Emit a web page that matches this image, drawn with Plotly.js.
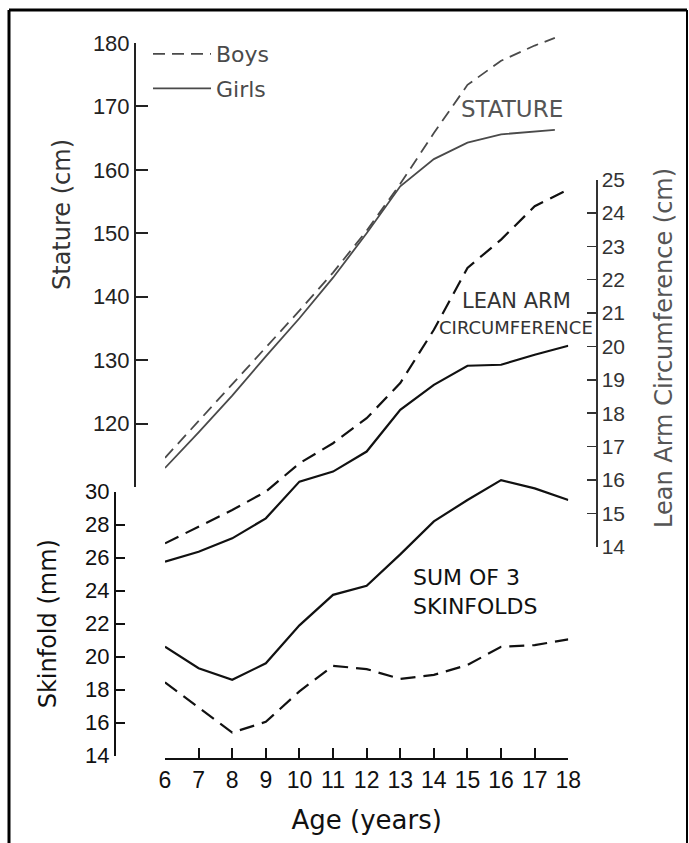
<!DOCTYPE html>
<html><head><meta charset="utf-8">
<script src="https://cdn.plot.ly/plotly-3.0.1.min.js"></script>
<style>html,body{margin:0;padding:0;background:#fff}#chart{width:689px;height:843px}</style>
</head><body><div id="chart"></div>
<script>
// ---------------- data ----------------
const ages = [6,7,8,9,10,11,12,13,14,15,16,17,18];
const statureAges = [6,7,8,9,10,11,12,13,14,15,16,17,17.6];
const statureBoys  = [114.6,120.4,126.2,132.0,137.8,143.8,150.4,157.8,165.8,173.4,177.2,179.6,180.8];
const statureGirls = [113.0,118.6,124.4,130.6,136.6,143.0,150.0,157.4,161.7,164.3,165.6,166.1,166.3];
const leanArmBoys  = [14.1,14.6,15.1,15.65,16.5,17.1,17.85,18.9,20.5,22.35,23.2,24.2,24.7];
const leanArmGirls = [13.55,13.85,14.25,14.85,15.95,16.25,16.85,18.1,18.85,19.42,19.45,19.75,20.02];
const skinfoldBoys  = [18.45,16.9,15.4,16.05,17.9,19.45,19.25,18.65,18.9,19.5,20.6,20.7,21.05];
const skinfoldGirls = [20.6,19.3,18.6,19.6,21.9,23.75,24.3,26.2,28.2,29.5,30.7,30.2,29.5];

const ageTicks = [6,7,8,9,10,11,12,13,14,15,16,17,18];
const statureTicks = [110,120,130,140,150,160,170,180];
const statureTickText = ['','120','130','140','150','160','170','180'];
const skinfoldTicks = [14,16,18,20,22,24,26,28,30];
const leanArmTicks = [14,15,16,17,18,19,20,21,22,23,24,25];

// ---------------- geometry helpers ----------------
const W = 689, H = 843;
const px = x => x / W;
const py = y => 1 - y / H;

const FONT = 'DejaVu Sans, Liberation Sans, sans-serif';
const NUMFONT = 'Liberation Sans, DejaVu Sans, sans-serif';

// visible axes: [range], pixel top/bottom, pixel x
const statureGeo  = {range:[110,180], top:43,    bottom:487,   x:135};
const skinfoldGeo = {range:[14,30],   top:491.7, bottom:755.7, x:115};
const leanArmGeo  = {range:[14,25],   top:179.5, bottom:546.7, x:596};

// hidden data axes share one tall domain, scaled to match the visible axes
const dataDomain = [py(775), py(25)];
function dataRange(g){
  const a = py(g.bottom), b = py(g.top);
  const s = (g.range[1]-g.range[0])/(b-a);
  return [g.range[0] + (dataDomain[0]-a)*s, g.range[0] + (dataDomain[1]-a)*s];
}

const gray = '#4a4a4a';
const ink = '#111';

const traces = [
  {x: statureAges, y: statureBoys, xaxis:'x', yaxis:'y', name:'Boys', legendgroup:'b',
   mode:'lines', line:{color:gray, width:1.8, dash:'12px,7px'}, showlegend:true},
  {x: statureAges, y: statureGirls, xaxis:'x', yaxis:'y', name:'Girls', legendgroup:'g',
   mode:'lines', line:{color:gray, width:1.8}, showlegend:true},
  {x: ages, y: leanArmBoys, xaxis:'x', yaxis:'y3', name:'Boys lean arm', mode:'lines',
   line:{color:ink, width:2.2, dash:'15px,8px'}, showlegend:false},
  {x: ages, y: leanArmGirls, xaxis:'x', yaxis:'y3', name:'Girls lean arm', mode:'lines',
   line:{color:ink, width:2.2}, showlegend:false},
  {x: ages, y: skinfoldBoys, xaxis:'x', yaxis:'y2', name:'Boys skinfolds', mode:'lines',
   line:{color:ink, width:2.2, dash:'15px,8px'}, showlegend:false},
  {x: ages, y: skinfoldGirls, xaxis:'x', yaxis:'y2', name:'Girls skinfolds', mode:'lines',
   line:{color:ink, width:2.2}, showlegend:false},
  // empty traces that make the visible axes' subplots exist
  {x:[], y:[], xaxis:'x', yaxis:'y4', showlegend:false, hoverinfo:'skip', mode:'lines'},
  {x:[], y:[], xaxis:'x', yaxis:'y5', showlegend:false, hoverinfo:'skip', mode:'lines'},
  {x:[], y:[], xaxis:'x', yaxis:'y6', showlegend:false, hoverinfo:'skip', mode:'lines'}
];

const hidden = r => ({domain:dataDomain, range:r, visible:false, showgrid:false, zeroline:false, anchor:'x', fixedrange:true});

const layout = {
  width: W, height: H,
  margin:{l:0, r:0, t:0, b:0, pad:0},
  paper_bgcolor:'#fff', plot_bgcolor:'rgba(0,0,0,0)',
  font:{family:FONT, color:ink},
  showlegend:true,
  legend:{x:px(148), y:py(33), xanchor:'left', yanchor:'top', bgcolor:'rgba(0,0,0,0)',
          traceorder:'grouped', tracegroupgap:3, itemwidth:58,
          font:{family:FONT, size:22, color:gray}},
  xaxis:{domain:[px(165), px(568.3)], range:[6,18], anchor:'free', position:py(759),
         tickmode:'array', tickvals:ageTicks, ticks:'inside', ticklen:10, tickwidth:2, tickcolor:ink,
         showline:true, linecolor:ink, linewidth:2, showgrid:false, zeroline:false, automargin:false,
         tickfont:{family:NUMFONT, size:23, color:ink},
         title:{text:'Age (years)', font:{family:FONT, size:26, color:ink}, standoff:18}},
  yaxis: hidden(dataRange(statureGeo)),
  yaxis2: Object.assign(hidden(dataRange(skinfoldGeo)), {overlaying:'y'}),
  yaxis3: Object.assign(hidden(dataRange(leanArmGeo)), {overlaying:'y'}),
  yaxis4:{domain:[py(statureGeo.bottom), py(statureGeo.top)], range:statureGeo.range,
          anchor:'free', position:px(statureGeo.x), side:'left',
          tickmode:'array', tickvals:statureTicks, ticktext:statureTickText,
          ticks:'inside', ticklen:12, tickwidth:2, tickcolor:'#222',
          showline:true, linecolor:'#222', linewidth:2, showgrid:false, zeroline:false, automargin:false,
          tickfont:{family:NUMFONT, size:22, color:'#222'}},
  yaxis5:{domain:[py(skinfoldGeo.bottom), py(skinfoldGeo.top)], range:skinfoldGeo.range,
          anchor:'free', position:px(skinfoldGeo.x), side:'left',
          tickmode:'array', tickvals:skinfoldTicks,
          ticks:'inside', ticklen:9, tickwidth:2, tickcolor:ink,
          showline:true, linecolor:ink, linewidth:2, showgrid:false, zeroline:false, automargin:false,
          tickfont:{family:NUMFONT, size:22, color:ink},
          title:{text:'Skinfold (mm)', font:{family:FONT, size:24, color:ink}}},
  yaxis6:{domain:[py(leanArmGeo.bottom), py(leanArmGeo.top)], range:leanArmGeo.range,
          anchor:'free', position:px(leanArmGeo.x), side:'right',
          tickmode:'array', tickvals:leanArmTicks,
          ticks:'inside', ticklen:9, tickwidth:1.5, tickcolor:'#333',
          showline:true, linecolor:'#333', linewidth:1.5, showgrid:false, zeroline:false, automargin:false,
          tickfont:{family:NUMFONT, size:21, color:'#333'}},
  annotations:[
    // axis titles placed where the figure shows them (off-centre along their axes)
    {text:'Stature (cm)', xref:'paper', yref:'paper', x:px(62), y:py(215), showarrow:false,
     textangle:-90, xanchor:'center', yanchor:'middle', font:{family:FONT, size:24, color:'#333'}},
    {text:'Lean Arm Circumference (cm)', xref:'paper', yref:'paper', x:px(664), y:py(348), showarrow:false,
     textangle:-90, xanchor:'center', yanchor:'middle', font:{family:FONT, size:24, color:'#555'}},
    {text:'STATURE', xref:'paper', yref:'paper', x:px(512), y:py(109), showarrow:false,
     xanchor:'center', yanchor:'middle', font:{family:FONT, size:23, color:'#555'}},
    {text:'LEAN ARM', xref:'paper', yref:'paper', x:px(516), y:py(301), showarrow:false,
     xanchor:'center', yanchor:'middle', font:{family:FONT, size:21, color:'#333'}},
    {text:'CIRCUMFERENCE', xref:'paper', yref:'paper', x:px(516), y:py(327), showarrow:false,
     xanchor:'center', yanchor:'middle', font:{family:FONT, size:18, color:'#333'}},
    {text:'SUM OF 3<br>SKINFOLDS', xref:'paper', yref:'paper', x:px(411), y:py(592), showarrow:false,
     xanchor:'left', yanchor:'middle', align:'left', font:{family:FONT, size:22, color:ink}}
  ],
  shapes:[
    {type:'line', xref:'paper', yref:'paper', x0:px(9), x1:px(9), y0:0, y1:py(10), line:{color:'#000', width:3}},
    {type:'line', xref:'paper', yref:'paper', x0:px(9), x1:px(687), y0:py(10), y1:py(10), line:{color:'#000', width:3}},
    {type:'line', xref:'paper', yref:'paper', x0:px(687), x1:px(687), y0:0, y1:py(10), line:{color:'#000', width:2}}
  ]
};

Plotly.newPlot('chart', traces, layout, {displayModeBar:false, staticPlot:true});
</script>
</body></html>
